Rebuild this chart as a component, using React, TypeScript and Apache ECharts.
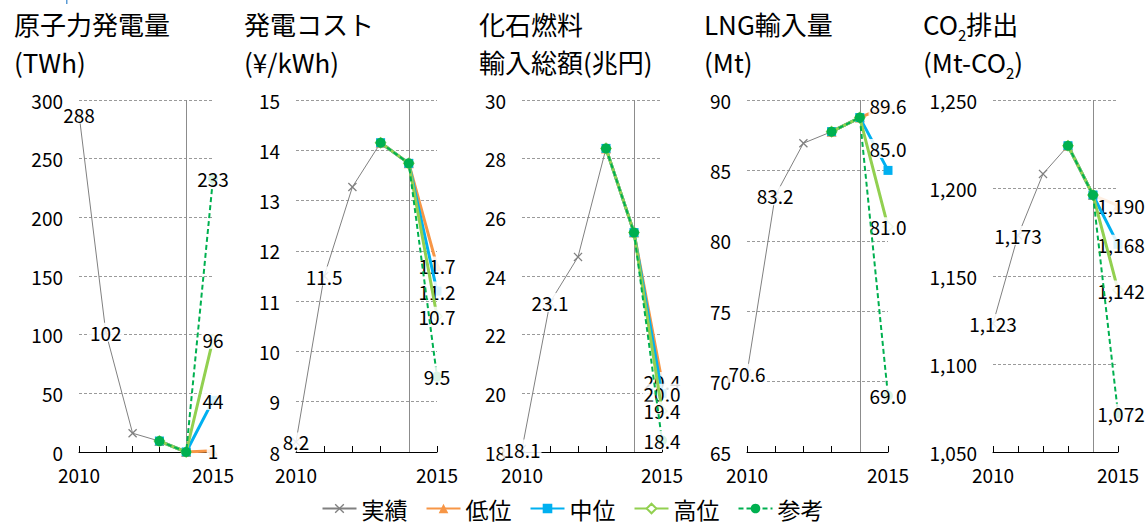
import React, { useEffect, useRef } from "react";
import * as echarts from "echarts";

// ---- data ----
const years = [2010, 2011, 2012, 2013, 2014, 2015];
const seriesNames = ["実績", "低位", "中位", "高位", "参考"];

// actual values 2010..2014
const nuclearActual = [288, 102, 16, 9.3, 0];
const costActual = [8.2, 11.5, 13.27, 14.15, 13.74];
const fossilActual = [18.1, 23.1, 24.65, 28.35, 25.48];
const lngActual = [70.6, 83.2, 86.93, 87.75, 88.75];
const co2Actual = [1123, 1173, 1208, 1224, 1196];

// 2015 scenarios: 低位, 中位, 高位, 参考
const nuclear2015 = [1, 44, 96, 233];
const cost2015 = [11.7, 11.2, 10.7, 9.5];
const fossil2015 = [20.4, 20.0, 19.4, 18.4];
const lng2015 = [89.6, 85.0, 81.0, 69.0];
const co22015 = [1190, 1168, 1142, 1072];

const FONT = "'Noto Sans CJK JP', 'Noto Sans', sans-serif";

const comma = (v: number) => Math.round(v).toLocaleString("en-US");
const oneDec = (v: number) => v.toFixed(1);
const intFmt = (v: number) => String(Math.round(v));

const panels: any[] = [
  { title: "{t|原子力発電量}\n{t|(TWh)}", titleLeft: 14, left: 79, width: 134, actual: nuclearActual, proj: nuclear2015, min: 0, max: 300, interval: 50, fmt: intFmt, axisFmt: intFmt, offsets: {} },
  { title: "{t|発電コスト}\n{t|(¥/kWh)}", titleLeft: 244, left: 296, width: 141, actual: costActual, proj: cost2015, min: 8, max: 15, interval: 1, fmt: oneDec, axisFmt: intFmt, offsets: {} },
  { title: "{t|化石燃料}\n{t|輸入総額(兆円)}", titleLeft: 479, left: 522, width: 140, actual: fossilActual, proj: fossil2015, min: 18, max: 30, interval: 2, fmt: oneDec, axisFmt: intFmt, offsets: {} },
  { title: "{t|LNG輸入量}\n{t|(Mt)}", titleLeft: 704, left: 747, width: 141, actual: lngActual, proj: lng2015, min: 65, max: 90, interval: 5, fmt: oneDec, axisFmt: intFmt, offsets: { 2: [0, -22] } },
  { title: "{t|CO}{sub|2}{t|排出}\n{t|(Mt-CO}{sub|2}{t|)}", titleLeft: 923, left: 993, width: 125, actual: co2Actual, proj: co22015, min: 1050, max: 1250, interval: 50, fmt: comma, axisFmt: comma, offsets: { 1: [3, 0], 2: [3, 0], 3: [3, 0], 4: [3, 0] } },
];

const styles = [
  { color: "#808080", width: 1, type: "solid", symbol: "path://M1,0L5,4L9,0L10,1L6,5L10,9L9,10L5,6L1,10L0,9L4,5L0,1Z", size: 9, fill: "#808080" },
  { color: "#F79646", width: 3, type: "solid", symbol: "triangle", size: 10, fill: "#F79646" },
  { color: "#00B0F0", width: 3, type: "solid", symbol: "rect", size: 9, fill: "#00B0F0" },
  { color: "#92D050", width: 3, type: "solid", symbol: "diamond", size: 10, fill: "#ffffff" },
  { color: "#00B050", width: 2, type: [5, 3], symbol: "circle", size: 10, fill: "#00B050" },
];

function buildOption() {
  const grid: any[] = [];
  const xAxis: any[] = [];
  const yAxis: any[] = [];
  const title: any[] = [];
  const series: any[] = [];

  const labelBase = {
    show: false,
    position: "inside",
    fontSize: 19,
    fontFamily: FONT,
    fontWeight: "normal",
    color: "#000",
    backgroundColor: "rgba(255,255,255,0.85)",
    padding: [0, 1],
  };

  panels.forEach((p, i) => {
    grid.push({ left: p.left, width: p.width, top: 100, height: 352 });
    title.push({
      text: p.title,
      left: p.titleLeft,
      top: 4,
      padding: 0,
      textStyle: {
        fontWeight: "normal",
        rich: {
          t: { fontSize: 26, fontFamily: FONT, fontWeight: "normal", color: "#000", lineHeight: 38 },
          sub: { fontSize: 15, fontFamily: FONT, fontWeight: "normal", color: "#000", lineHeight: 24, verticalAlign: "bottom" },
        },
      },
    });
    xAxis.push({
      type: "value",
      gridIndex: i,
      min: years[0],
      max: years[years.length - 1],
      interval: 1,
      axisLine: { show: true, lineStyle: { color: "#000", width: 1 } },
      axisTick: { show: true, inside: true, length: 6, lineStyle: { color: "#000" } },
      splitLine: { show: false },
      axisLabel: {
        showMinLabel: true,
        showMaxLabel: true,
        fontSize: 19,
        fontFamily: FONT,
        fontWeight: "normal",
        color: "#000",
        margin: 13,
        formatter: (v: number) => (v === years[0] || v === years[years.length - 1] ? String(v) : ""),
      },
    });
    yAxis.push({
      type: "value",
      gridIndex: i,
      min: p.min,
      max: p.max,
      interval: p.interval,
      axisLine: { show: false },
      axisTick: { show: false },
      splitLine: { show: true, lineStyle: { color: "#9a9a9a", type: [3, 2], width: 1 } },
      axisLabel: {
        fontSize: 19,
        fontFamily: FONT,
        fontWeight: "normal",
        color: "#000",
        margin: 16,
        formatter: (v: number) => p.axisFmt(v),
      },
    });

    // actual series
    const s0 = styles[0];
    series.push({
      name: seriesNames[0],
      type: "line",
      xAxisIndex: i,
      yAxisIndex: i,
      data: p.actual.map((v: number, k: number) => ({ value: [years[k], v], label: { show: k < 2 } })),
      symbol: s0.symbol,
      symbolSize: s0.size,
      showAllSymbol: true,
      lineStyle: { color: s0.color, width: s0.width, type: s0.type },
      itemStyle: { color: s0.fill },
      label: { ...labelBase, formatter: (q: any) => p.fmt(q.value[1]) },
      markLine: {
        silent: true,
        symbol: ["none", "none"],
        label: { show: false },
        lineStyle: { color: "#8c8c8c", width: 1, type: "solid" },
        data: [{ xAxis: years[4] }],
      },
      z: 2,
    });

    for (let j = 1; j < 5; j++) {
      const st = styles[j];
      const off = p.offsets[j] || [0, 0];
      series.push({
        name: seriesNames[j],
        type: "line",
        xAxisIndex: i,
        yAxisIndex: i,
        data: [
          { value: [years[3], p.actual[3]] },
          { value: [years[4], p.actual[4]] },
          { value: [years[5], p.proj[j - 1]], label: { show: true, offset: off } },
        ],
        symbol: st.symbol,
        symbolSize: st.size,
        lineStyle: { color: st.color, width: st.width, type: st.type },
        itemStyle: { color: st.fill, borderColor: st.color, borderWidth: j === 3 ? 1.5 : 0 },
        label: { ...labelBase, formatter: (q: any) => p.fmt(q.value[1]) },
        z: 2 + j,
      });
    }
  });

  return {
    animation: false,
    backgroundColor: "#fff",
    textStyle: { fontFamily: FONT },
    title,
    grid,
    xAxis,
    yAxis,
    series,
    legend: {
      data: seriesNames,
      top: 492,
      left: "center",
      itemWidth: 34,
      itemHeight: 12,
      itemGap: 18,
      textStyle: { fontSize: 23, fontFamily: FONT, color: "#000" },
    },
    graphic: [
      { type: "rect", shape: { x: 66, y: 0, width: 1.5, height: 4 }, style: { fill: "#5B9BD5" } },
    ],
  };
}

export default function App() {
  const ref = useRef<HTMLDivElement>(null);
  useEffect(() => {
    document.body.style.margin = "0";
    const chart = echarts.init(ref.current!, null, { renderer: "svg" });
    chart.setOption(buildOption() as any);
    return () => chart.dispose();
  }, []);
  return <div ref={ref} style={{ width: 1145, height: 525 }} />;
}
